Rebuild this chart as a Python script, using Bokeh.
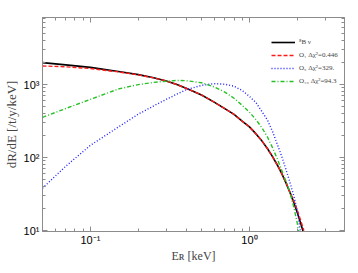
from bokeh.plotting import figure
from bokeh.models import (FixedTicker, LogAxis, CustomJSTickFormatter, Legend,
                          LegendItem, Range1d)
from bokeh.embed import file_html
from bokeh.resources import INLINE

# ---- data ----
energy = [0.05, 0.07, 0.1, 0.15, 0.2, 0.25, 0.3, 0.35, 0.4, 0.5, 0.6, 0.7, 0.8,
          0.9, 1.0, 1.1, 1.2, 1.3, 1.4, 1.5, 1.6, 1.7, 1.8, 1.9, 2.0, 2.1, 2.2]
rate_8B = [2000, 1860, 1720, 1510, 1370, 1240, 1120, 1000, 890, 720, 575, 468, 390,
           316, 263, 211, 168, 132, 102, 78.5, 59.6, 44.7, 33.1, 24.3, 17.6, 12.6, 8.9]
rate_O1 = [1800, 1750, 1660, 1490, 1360, 1235, 1120, 1000, 890, 720, 575, 468, 390,
           316, 263, 211, 168, 132, 102, 78.5, 59.6, 44.7, 33.3, 25.5, 18.8, 13.8, 10.0]
rate_O5 = [38, 76, 147, 262, 393, 510, 627, 740, 850, 975, 1030, 1010, 950,
           830, 690, 565, 425, 325, 225, 150, 102, 68, 45, 30, 19, 9, 4]
rate_O10 = [355, 470, 627, 870, 1000, 1070, 1110, 1140, 1130, 1060, 930, 790, 650,
            520, 420, 330, 255, 190, 135, 95, 66, 47, 33, 21, 12.5, 6.5, 3]

labels = ["\u2078B \u03bd", "O\u2081 \u0394\u03c7\u00b2=0.446",
          "O\u2085 \u0394\u03c7\u00b2=329.", "O\u2081\u2080 \u0394\u03c7\u00b2=94.3"]
x_title = "E\u0280 [keV]"
y_title = "dR/dE [/t/y/keV]"
x_major = [0.1, 1]
x_minor = [0.05, 0.06, 0.07, 0.08, 0.09, 0.2, 0.3, 0.4, 0.5, 0.6, 0.7, 0.8, 0.9, 2, 3]
y_major = [10, 100, 1000]
y_minor = [20, 30, 40, 50, 60, 70, 80, 90, 200, 300, 400, 500, 600, 700, 800, 900,
           2000, 3000, 4000, 5000, 6000, 7000, 8000]

GRAY = "#8c8c8c"

p = figure(width=350, height=265, x_axis_type="log", y_axis_type="log",
           x_range=Range1d(0.05, 3.96), y_range=Range1d(9.7, 8300),
           output_backend="svg", toolbar_location=None,
           min_border_left=33, min_border_right=6, min_border_top=17,
           min_border_bottom=31)
p.xgrid.visible = False
p.ygrid.visible = False
p.outline_line_color = GRAY
p.outline_line_width = 1
p.background_fill_color = "white"

bottom = p.below[0]
left = p.left[0]

fmt_code = """
const sup = {"-":"\u207b","0":"\u2070","1":"\u00b9","2":"\u00b2","3":"\u00b3",
             "4":"\u2074","5":"\u2075","6":"\u2076","7":"\u2077","8":"\u2078","9":"\u2079"};
const e = Math.round(Math.log10(tick));
return "10" + String(e).split("").map(c => sup[c]).join("");
"""

xt = FixedTicker(ticks=x_major, minor_ticks=x_minor)
yt = FixedTicker(ticks=y_major, minor_ticks=y_minor)

def style(ax, ticker, show_labels):
    ax.ticker = ticker
    ax.formatter = CustomJSTickFormatter(code=fmt_code if show_labels else "return ''")
    ax.axis_line_color = GRAY
    ax.major_tick_line_color = GRAY
    ax.minor_tick_line_color = GRAY
    ax.major_tick_in = 5
    ax.major_tick_out = 0
    ax.minor_tick_in = 3
    ax.minor_tick_out = 0
    ax.major_label_text_font = "Liberation Sans"
    ax.major_label_text_font_size = "11px"
    ax.major_label_text_color = "black"
    ax.major_label_standoff = 3

style(bottom, xt, True)
style(left, yt, True)
bottom.major_label_standoff = 2

top = LogAxis()
right = LogAxis()
style(top, xt, False)
style(right, yt, False)
top.major_label_standoff = 0
right.major_label_standoff = 0
p.add_layout(top, "above")
p.add_layout(right, "right")

left.axis_label = y_title
left.axis_label_text_font = "Liberation Serif"
left.axis_label_text_font_style = "normal"
left.axis_label_text_font_size = "13px"
left.axis_label_standoff = 2

bottom.axis_label = x_title
bottom.axis_label_text_font = "Liberation Serif"
bottom.axis_label_text_font_style = "normal"
bottom.axis_label_text_font_size = "12px"
bottom.axis_label_standoff = 0

r1 = p.line(energy, rate_8B, line_color="black", line_width=1.6)
r2 = p.line(energy, rate_O1, line_color="#ff1a1a", line_width=1.4, line_dash="4 2")
r3 = p.line(energy, rate_O5, line_color="#2020ff", line_width=1.4, line_dash="1 2")
r4 = p.line(energy, rate_O10, line_color="#28c028", line_width=1.4, line_dash="4 2 1 2")

legend = Legend(items=[LegendItem(label=labels[i], renderers=[r])
                       for i, r in enumerate([r1, r2, r3, r4])],
                location=(229, 145), padding=0, spacing=3, margin=0,
                label_height=10, glyph_height=10, glyph_width=24,
                label_standoff=4, border_line_color=None,
                background_fill_alpha=0, label_text_font="Liberation Serif",
                label_text_font_size="7px")
p.add_layout(legend)

open("out.html", "w").write(file_html(p, INLINE))
